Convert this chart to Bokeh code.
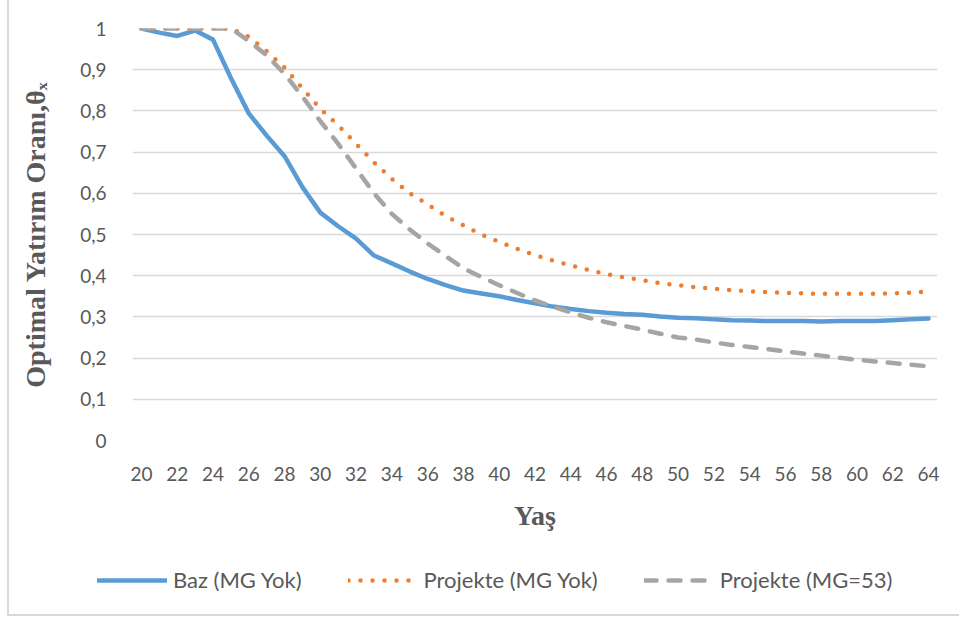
from bokeh.plotting import figure
from bokeh.models import Legend, LegendItem, FixedTicker, Range1d
from bokeh.embed import file_html
from bokeh.resources import INLINE

ages = list(range(20, 65))
baz = [1.0, 0.99, 0.982, 0.995, 0.973, 0.88, 0.794, 0.74, 0.69, 0.615,
       0.553, 0.52, 0.49, 0.449, 0.43, 0.41, 0.392, 0.377, 0.364, 0.357,
       0.35, 0.341, 0.333, 0.325, 0.319, 0.314, 0.31, 0.307, 0.305, 0.301,
       0.298, 0.297, 0.294, 0.292, 0.291, 0.29, 0.29, 0.29, 0.289, 0.29,
       0.29, 0.29, 0.292, 0.294, 0.296]
projekte = [1.0, 1.0, 1.0, 1.0, 1.0, 1.0, 0.98, 0.945, 0.905, 0.855,
            0.805, 0.765, 0.72, 0.675, 0.635, 0.6, 0.573, 0.545, 0.522, 0.5,
            0.482, 0.465, 0.45, 0.437, 0.425, 0.414, 0.404, 0.396, 0.389, 0.382,
            0.377, 0.372, 0.368, 0.365, 0.362, 0.36, 0.358, 0.357, 0.356, 0.356,
            0.356, 0.356, 0.357, 0.359, 0.362]
mg53 = [1.0, 1.0, 1.0, 1.0, 1.0, 1.0, 0.97, 0.935, 0.89, 0.835,
        0.775, 0.72, 0.66, 0.6, 0.55, 0.512, 0.478, 0.448, 0.418, 0.397,
        0.377, 0.358, 0.34, 0.325, 0.311, 0.298, 0.287, 0.278, 0.269, 0.259,
        0.25, 0.245, 0.238, 0.232, 0.227, 0.222, 0.216, 0.211, 0.206, 0.201,
        0.196, 0.192, 0.188, 0.184, 0.18]
series_names = ["Baz (MG Yok)", "Projekte (MG Yok)", "Projekte (MG=53)"]
x_ticks = list(range(20, 65, 2))
y_ticks = [0, 0.1, 0.2, 0.3, 0.4, 0.5, 0.6, 0.7, 0.8, 0.9, 1.0]
y_tick_labels = ["0", "0,1", "0,2", "0,3", "0,4", "0,5", "0,6", "0,7", "0,8", "0,9", "1"]
x_title = "Yaş"
y_title = "Optimal Yatırım Oranı,θₓ"

TICK_FONT = "Lato"
COLORS = ["#5b9bd5", "#ed7d31", "#a5a5a5"]
DASHES = ["solid", "0 12", "12 12"]
SERIES = [baz, projekte, mg53]
EDGE = "2px solid #d9d9d9"

p = figure(width=952, height=550, output_backend="svg", toolbar_location=None,
           x_range=Range1d(19.5, 64.5), y_range=Range1d(0, 1),
           min_border_left=123, min_border_right=24, min_border_top=28,
           min_border_bottom=110)
p.styles = {"margin-left": "7px", "border-left": EDGE}
p.outline_line_color = None
p.background_fill_color = "white"
p.border_fill_color = "white"

p.xgrid.grid_line_color = None
p.ygrid.grid_line_color = "#d9d9d9"
p.ygrid.grid_line_width = 1.3

p.xaxis.ticker = FixedTicker(ticks=x_ticks)
p.yaxis.ticker = FixedTicker(ticks=y_ticks)
p.yaxis.major_label_overrides = {t: l for t, l in zip(y_ticks, y_tick_labels)}
for ax in (p.xaxis, p.yaxis):
    ax.axis_line_color = None
    ax.major_tick_line_color = None
    ax.minor_tick_line_color = None
    ax.major_label_text_font = TICK_FONT
    ax.major_label_text_font_size = "19px"
    ax.major_label_text_color = "#595959"
    ax.axis_label_text_font = "Liberation Serif"
    ax.axis_label_text_font_style = "bold"
    ax.axis_label_text_font_size = "28px"
    ax.axis_label_text_color = "#595959"
p.xaxis.major_label_standoff = 20
p.yaxis.major_label_standoff = 20
p.xaxis.axis_label = x_title
p.yaxis.axis_label = y_title
p.xaxis.axis_label_standoff = 16
p.yaxis.axis_label_standoff = 26

for ys, c, d in zip(SERIES, COLORS, DASHES):
    p.line(ages, ys, line_color=c, line_width=4.5, line_dash=d,
           line_join="round", line_cap="round")

# legend strip below the chart (series drawn out of view, only their keys show)
lf = figure(width=952, height=66, output_backend="svg", toolbar_location=None,
            x_range=Range1d(0, 1), y_range=Range1d(0, 1),
            x_axis_location=None, y_axis_location=None,
            min_border=0)
lf.styles = {"margin-left": "7px", "border-left": EDGE, "border-bottom": EDGE}
lf.outline_line_color = None
lf.grid.grid_line_color = None
keys = []
for ys, c, d in zip(SERIES, COLORS, DASHES):
    keys.append(lf.line(ages, ys, line_color=c, line_width=4.5, line_dash=d,
                        line_join="round", line_cap="round"))
legend = Legend(items=[LegendItem(label=n, renderers=[r]) for n, r in zip(series_names, keys)],
                orientation="horizontal", location=(88, 23),
                glyph_width=70, glyph_height=20, label_standoff=6, spacing=46,
                label_text_font=TICK_FONT, label_text_font_size="22px",
                label_text_color="#595959", border_line_color=None,
                background_fill_alpha=0, margin=0, padding=0)
lf.add_layout(legend, "center")

open("out.html", "w").write(file_html([p, lf], INLINE))
